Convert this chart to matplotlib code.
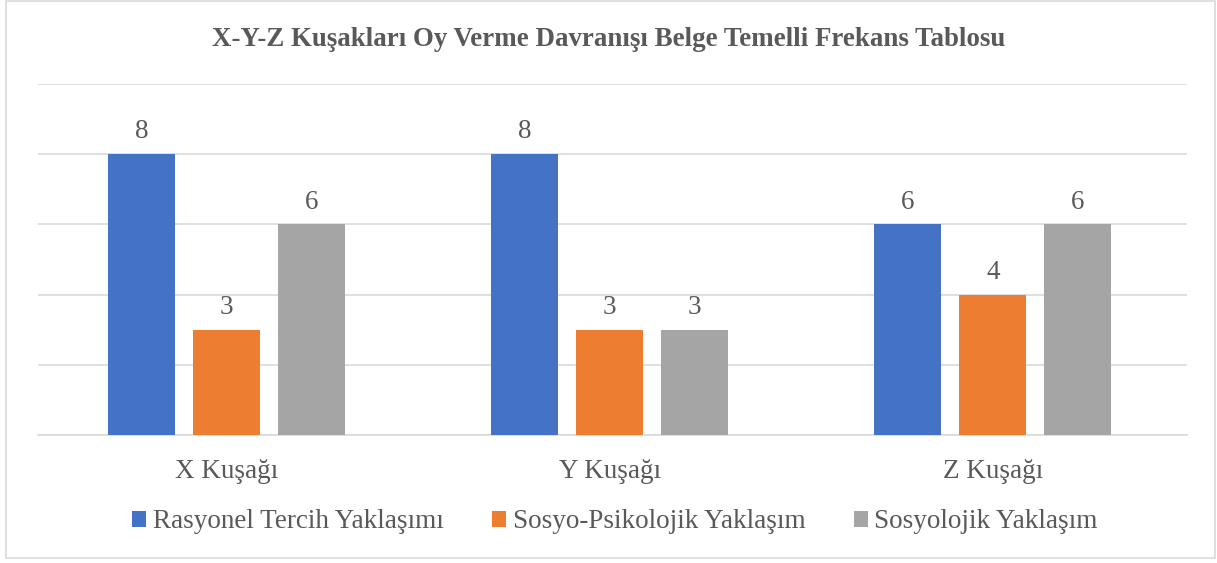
"""X-Y-Z generation voting behaviour frequency chart."""
import matplotlib.pyplot as plt
import numpy as np
from matplotlib.patches import Rectangle

categories = ["X Kuşağı", "Y Kuşağı", "Z Kuşağı"]
series_names = [
    "Rasyonel Tercih Yaklaşımı",
    "Sosyo-Psikolojik Yaklaşım",
    "Sosyolojik Yaklaşım",
]
rasyonel = [8, 8, 6]
sosyo_psikolojik = [3, 3, 4]
sosyolojik = [6, 3, 6]

colors = ["#4472C4", "#ED7D31", "#A5A5A5"]
text_color = "#595959"

plt.rcParams["font.family"] = ["Liberation Serif", "DejaVu Serif"]


def main() -> None:
    fig = plt.figure(figsize=(12.17, 5.63), dpi=100)
    ax = fig.add_axes([38 / 1217, 1 - 435 / 563, (1187 - 38) / 1217, (435 - 84) / 563])

    # outer chart border
    fig.patches.append(Rectangle((6 / 1217, 5 / 563), 1209 / 1217, 557 / 563,
                                 transform=fig.transFigure, fill=False,
                                 edgecolor="#D9D9D9", linewidth=1.2))

    x = np.arange(len(categories))
    width = 0.175
    offset = 0.222
    for i, (vals, name) in enumerate(zip([rasyonel, sosyo_psikolojik, sosyolojik], series_names)):
        bars = ax.bar(x + (i - 1) * offset, vals, width, color=colors[i], label=name, zorder=3)
        ax.bar_label(bars, padding=7, fontsize=19.5, color=text_color)

    ax.set_xlim(-0.493, 2.507)
    ax.set_ylim(0, 10)
    ax.set_yticks([0, 2, 4, 6, 8, 10])
    ax.set_yticklabels([])
    ax.tick_params(axis="y", length=0)
    ax.grid(axis="y", color="#D9D9D9", linewidth=1.2, zorder=0)
    ax.set_xticks(x)
    ax.set_xticklabels(categories, fontsize=19.5, color=text_color)
    ax.tick_params(axis="x", length=0, pad=17)
    for side in ["top", "right", "left"]:
        ax.spines[side].set_visible(False)
    ax.spines["bottom"].set_color("#D9D9D9")
    ax.spines["bottom"].set_linewidth(1.2)

    fig.text(0.5, 1 - 40 / 563, "X-Y-Z Kuşakları Oy Verme Davranışı Belge Temelli Frekans Tablosu",
             ha="center", va="center", fontsize=19.4, fontweight="bold", color=text_color)

    fig.legend(loc="center", bbox_to_anchor=(615 / 1217, 1 - 522 / 563), ncol=3, frameon=False,
               fontsize=19.5, labelcolor=text_color, handlelength=0.5, handleheight=0.5,
               handletextpad=0.25, columnspacing=1.8)

    fig.savefig("out.png", dpi=100)


if __name__ == "__main__":
    main()
